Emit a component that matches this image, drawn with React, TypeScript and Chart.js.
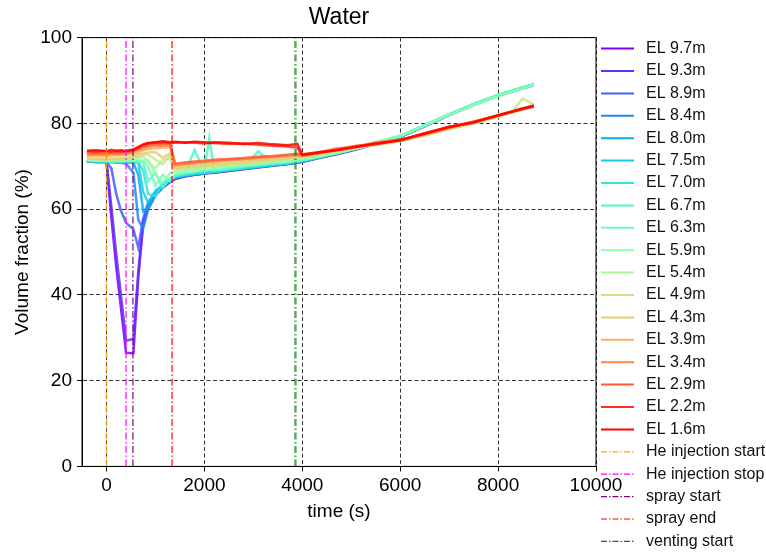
import React, { useEffect, useRef } from 'react';
import { Chart, registerables } from 'chart.js';

Chart.register(...registerables);

// ---------- data ----------
const TIME = [-400, -200, 0, 100, 200, 300, 400, 550, 650, 750, 850, 1000, 1150, 1300, 1400, 1600, 1800, 2000, 2100, 2200, 2500, 2800, 3100, 3400, 3700, 3900, 4000, 4300, 4700, 5100, 5500, 6000, 6500, 7000, 7500, 8000, 8300, 8500, 8730];

const SERIES_LABELS = ['EL 9.7m', 'EL 9.3m', 'EL 8.9m', 'EL 8.4m', 'EL 8.0m', 'EL 7.5m', 'EL 7.0m', 'EL 6.7m', 'EL 6.3m', 'EL 5.9m', 'EL 5.4m', 'EL 4.9m', 'EL 4.3m', 'EL 3.9m', 'EL 3.4m', 'EL 2.9m', 'EL 2.2m', 'EL 1.6m'];

const EL_97 = [71.2, 71.1, 71.0, 58.0, 46.5, 36.5, 26.5, 26.4, 44.0, 56.5, 60.5, 63.3, 65.0, 66.3, 67.0, 67.6, 68.0, 68.3, 68.4, 68.5, 68.9, 69.3, 69.7, 70.1, 70.5, 70.8, 71.0, 71.8, 72.8, 73.9, 75.2, 76.8, 79.3, 81.9, 84.3, 86.4, 87.5, 88.2, 88.9];
const EL_93 = [71.2, 71.1, 71.0, 60.5, 49.5, 39.5, 29.3, 29.7, 45.5, 57.0, 60.8, 63.5, 65.2, 66.4, 67.1, 67.7, 68.0, 68.3, 68.5, 68.6, 69.0, 69.4, 69.8, 70.2, 70.6, 70.9, 71.1, 71.9, 72.9, 74.0, 75.3, 76.9, 79.4, 82.0, 84.4, 86.5, 87.6, 88.3, 89.0];
const EL_89 = [71.1, 71.0, 71.0, 69.5, 63.5, 59.5, 56.8, 55.3, 51.0, 57.8, 61.5, 63.8, 65.4, 66.6, 67.2, 67.7, 68.1, 68.4, 68.5, 68.6, 69.0, 69.4, 69.8, 70.2, 70.6, 70.9, 71.1, 71.9, 72.9, 74.0, 75.3, 76.9, 79.4, 82.0, 84.4, 86.5, 87.6, 88.3, 89.0];
const EL_84 = [71.1, 71.0, 71.0, 71.0, 70.9, 70.8, 70.6, 68.5, 57.5, 55.5, 59.8, 63.2, 65.3, 66.6, 67.3, 67.8, 68.1, 68.4, 68.5, 68.6, 69.0, 69.4, 69.8, 70.2, 70.6, 70.9, 71.1, 71.9, 72.9, 74.0, 75.3, 76.9, 79.4, 82.0, 84.4, 86.5, 87.6, 88.3, 89.0];
const EL_80 = [71.1, 71.0, 71.0, 71.0, 71.0, 70.9, 70.9, 70.8, 68.0, 59.5, 60.5, 63.5, 65.3, 66.6, 67.3, 67.8, 68.2, 68.5, 68.6, 68.7, 69.1, 69.5, 69.9, 70.3, 70.6, 70.9, 71.1, 71.9, 73.0, 74.1, 75.4, 77.0, 79.5, 82.0, 84.4, 86.5, 87.6, 88.3, 89.1];
const EL_75 = [71.2, 71.1, 71.1, 71.1, 71.0, 71.0, 71.0, 71.0, 70.8, 64.0, 61.5, 64.3, 65.6, 66.8, 67.4, 67.9, 68.2, 68.5, 68.6, 68.7, 69.1, 69.5, 69.9, 70.3, 70.7, 71.0, 71.2, 72.0, 73.0, 74.1, 75.4, 77.0, 79.5, 82.1, 84.5, 86.6, 87.6, 88.4, 89.1];
const EL_70 = [71.2, 71.2, 71.1, 71.1, 71.1, 71.0, 71.0, 71.1, 71.0, 69.0, 63.5, 63.0, 66.0, 67.0, 67.6, 68.0, 68.3, 68.6, 68.7, 68.8, 69.2, 69.6, 70.0, 70.4, 70.8, 71.1, 71.3, 72.0, 73.0, 74.1, 75.4, 77.0, 79.5, 82.1, 84.5, 86.6, 87.7, 88.4, 89.1];
const EL_67 = [71.3, 71.2, 71.2, 71.1, 71.2, 71.1, 71.2, 71.2, 71.1, 71.0, 66.5, 68.5, 65.0, 67.2, 67.8, 68.3, 73.8, 68.8, 76.6, 69.0, 69.4, 69.8, 73.5, 70.5, 70.9, 71.2, 71.4, 72.1, 73.1, 74.2, 75.5, 77.1, 79.6, 82.1, 84.5, 86.6, 87.7, 88.4, 89.1];
const EL_63 = [71.4, 71.3, 71.3, 71.2, 71.3, 71.2, 71.3, 71.3, 71.2, 71.2, 70.0, 65.5, 68.0, 66.5, 68.0, 68.4, 68.7, 69.0, 69.1, 69.2, 69.6, 70.0, 70.3, 70.7, 71.0, 71.3, 71.5, 72.2, 73.1, 74.2, 75.5, 77.1, 79.6, 82.1, 84.5, 86.6, 87.7, 88.4, 89.1];
const EL_59 = [71.5, 71.4, 71.4, 71.3, 71.4, 71.3, 71.4, 71.4, 71.4, 71.3, 71.5, 68.0, 66.2, 68.5, 68.6, 68.9, 69.2, 69.4, 69.5, 69.6, 70.0, 70.3, 70.6, 71.0, 71.3, 71.5, 71.6, 72.2, 73.1, 74.1, 75.4, 77.0, 79.4, 81.9, 84.2, 86.3, 87.4, 88.1, 88.8];
const EL_54 = [71.6, 71.5, 71.5, 71.5, 71.6, 71.5, 71.6, 71.8, 72.0, 72.2, 71.0, 69.5, 71.5, 72.0, 69.0, 69.3, 69.5, 69.7, 69.8, 69.9, 70.2, 70.5, 70.8, 71.1, 71.5, 71.8, 72.0, 72.6, 73.4, 74.2, 74.9, 75.8, 77.1, 78.6, 79.9, 81.5, 82.6, 83.3, 84.1];
const EL_49 = [71.7, 71.6, 71.6, 71.6, 71.7, 71.7, 71.8, 72.0, 72.3, 72.6, 72.8, 71.5, 70.5, 72.5, 69.4, 69.6, 69.8, 70.0, 70.1, 70.2, 70.5, 70.8, 71.1, 71.4, 71.7, 72.0, 72.1, 72.7, 73.5, 74.3, 75.0, 75.9, 77.2, 78.7, 80.0, 81.6, 82.8, 85.8, 84.4];
const EL_43 = [71.8, 71.8, 71.7, 71.8, 71.8, 71.8, 72.0, 72.3, 72.8, 73.0, 73.2, 73.3, 72.0, 73.0, 69.6, 69.8, 70.0, 70.2, 70.3, 70.4, 70.7, 71.0, 71.3, 71.6, 71.9, 72.2, 72.3, 72.8, 73.6, 74.4, 75.1, 76.0, 77.3, 78.8, 80.1, 81.7, 82.8, 83.5, 84.3];
const EL_39 = [72.4, 72.5, 72.4, 72.5, 72.6, 72.5, 72.7, 72.9, 73.3, 73.7, 74.0, 74.2, 74.3, 74.5, 70.0, 70.4, 70.6, 70.8, 70.9, 71.0, 71.3, 71.5, 71.8, 72.0, 72.3, 72.5, 72.4, 73.0, 73.8, 74.8, 75.2, 76.1, 77.5, 79.0, 80.3, 81.8, 82.8, 83.5, 84.1];
const EL_34 = [72.7, 72.8, 72.7, 72.9, 72.8, 72.9, 73.0, 73.3, 73.8, 74.2, 74.5, 74.7, 74.8, 74.9, 70.3, 70.6, 70.8, 71.0, 71.1, 71.2, 71.5, 71.7, 72.0, 72.2, 72.5, 72.7, 72.6, 73.1, 74.2, 74.5, 75.6, 76.2, 77.4, 79.2, 80.4, 81.9, 82.9, 83.4, 84.0];
const EL_29 = [73.0, 73.1, 73.0, 73.2, 73.1, 73.2, 73.3, 73.6, 74.1, 74.6, 74.9, 75.1, 75.2, 75.3, 70.6, 70.9, 71.1, 71.3, 71.4, 71.5, 71.7, 71.9, 72.2, 72.4, 72.7, 72.9, 72.8, 73.2, 73.9, 74.7, 75.3, 76.1, 77.6, 79.1, 80.2, 81.8, 82.8, 83.4, 84.0];
const EL_22 = [73.5, 73.4, 73.6, 73.3, 73.5, 73.4, 73.6, 73.8, 74.3, 74.9, 75.3, 75.5, 75.6, 75.4, 75.5, 75.6, 75.5, 75.3, 75.5, 75.4, 75.2, 75.3, 75.0, 74.8, 74.6, 74.3, 72.5, 73.0, 73.8, 74.6, 75.1, 76.2, 77.5, 79.0, 80.4, 81.8, 82.7, 83.3, 83.9];
const EL_16 = [73.6, 73.7, 73.5, 73.8, 73.6, 73.7, 73.5, 73.9, 74.5, 75.1, 75.4, 75.6, 75.8, 75.6, 75.7, 75.5, 75.7, 75.6, 75.4, 75.6, 75.5, 75.2, 75.4, 75.1, 74.9, 75.2, 72.7, 73.2, 73.7, 74.5, 75.3, 76.0, 77.7, 79.2, 80.2, 81.9, 82.8, 83.5, 84.1];

const SERIES = [EL_97, EL_93, EL_89, EL_84, EL_80, EL_75, EL_70, EL_67, EL_63, EL_59, EL_54, EL_49, EL_43, EL_39, EL_34, EL_29, EL_22, EL_16];

const EVENT_LABELS = ['He injection start', 'He injection stop', 'spray start', 'spray end', 'venting start'];
const EVENT_TIMES = [0, 400, 540, 1340, 3860];
const EVENT_COLORS = ['255,165,0', '255,0,255', '128,0,128', '255,0,0', '0,128,0'];

const X_TICKS = [0, 2000, 4000, 6000, 8000, 10000];
const Y_TICKS = [0, 20, 40, 60, 80, 100];

// ---------- styling helpers ----------
const FONT = '"Liberation Sans", Arial, Helvetica, sans-serif';

function rainbow(x: number): string {
  const clip = (v: number) => Math.max(0, Math.min(1, v));
  const r = clip(Math.abs(2 * x - 0.5));
  const g = clip(Math.sin(Math.PI * x));
  const b = clip(Math.cos((Math.PI * x) / 2));
  return `${Math.round(r * 255)},${Math.round(g * 255)},${Math.round(b * 255)}`;
}

const DASH_DOT = [7, 2.5, 1.5, 2.5];

const sideLegend = {
  id: 'sideLegend',
  afterDraw(chart: any) {
    const { ctx, chartArea } = chart;
    ctx.save();
    ctx.font = `16px ${FONT}`;
    ctx.textBaseline = 'middle';
    ctx.textAlign = 'left';
    chart.data.datasets.forEach((ds: any, i: number) => {
      const y = chartArea.top + 11 + i * 22.4;
      const x0 = chartArea.right + 5;
      ctx.beginPath();
      ctx.setLineDash(ds.legendDash || []);
      ctx.strokeStyle = ds.legendColor;
      ctx.lineWidth = ds.legendWidth;
      ctx.moveTo(x0, y);
      ctx.lineTo(x0 + 33, y);
      ctx.stroke();
      ctx.setLineDash([]);
      ctx.fillStyle = '#111';
      ctx.fillText(ds.label, x0 + 45, y);
    });
    ctx.restore();
  },
};

const frame = {
  id: 'frame',
  afterDatasetsDraw(chart: any) {
    const { ctx, chartArea } = chart;
    ctx.save();
    ctx.strokeStyle = '#000';
    ctx.lineWidth = 1;
    ctx.setLineDash([]);
    ctx.strokeRect(chartArea.left, chartArea.top, chartArea.right - chartArea.left, chartArea.bottom - chartArea.top);
    ctx.restore();
  },
};

export default function App() {
  const ref = useRef<HTMLCanvasElement | null>(null);

  useEffect(() => {
    document.body.style.margin = '0';
    const canvas = ref.current;
    if (!canvas) return;

    const n = SERIES.length;
    const seriesSets = SERIES.map((vals, i) => {
      const c = rainbow(i / (n - 1));
      return {
        type: 'line',
        label: SERIES_LABELS[i],
        data: TIME.map((t, k) => ({ x: t, y: vals[k] })),
        borderColor: `rgba(${c},0.85)`,
        borderWidth: 2.5,
        pointRadius: 0,
        tension: 0,
        fill: false,
        order: 100 - i,
        legendColor: `rgb(${c})`,
        legendWidth: 2,
      };
    });
    const eventSets = EVENT_TIMES.map((t, i) => ({
      type: 'line',
      label: EVENT_LABELS[i],
      data: [{ x: t, y: 0 }, { x: t, y: 100 }],
      borderColor: `rgba(${EVENT_COLORS[i]},${i === 4 ? 0.65 : 0.8})`,
      borderWidth: i === 4 ? 2.5 : 1.5,
      borderDash: DASH_DOT,
      pointRadius: 0,
      fill: false,
      order: -i,
      legendColor: `rgb(${EVENT_COLORS[i]})`,
      legendWidth: 1.2,
      legendDash: [6, 2, 1.5, 2],
    }));

    const chart = new Chart(canvas, {
      type: 'line',
      data: { datasets: [...seriesSets, ...eventSets] as any },
      options: {
        animation: false,
        responsive: false,
        maintainAspectRatio: false,
        layout: { padding: { left: 9.5, right: 170, top: 0, bottom: 0 } },
        plugins: {
          legend: { display: false },
          tooltip: { enabled: false },
          title: {
            display: true,
            text: 'Water',
            color: '#000',
            font: { family: FONT, size: 23, weight: 'normal' },
            padding: { top: 4, bottom: 6 },
            fullSize: false,
          } as any,
        },
        scales: {
          x: {
            type: 'linear',
            min: -500,
            max: 10000,
            afterBuildTicks: (s: any) => {
              s.ticks = X_TICKS.map((v) => ({ value: v }));
            },
            ticks: {
              color: '#000',
              font: { family: FONT, size: 19 },
              padding: 3,
              maxRotation: 0,
              autoSkip: false,
              callback: (v: any) => String(v),
            },
            grid: {
              color: 'rgba(0,0,0,0.8)',
              lineWidth: 1,
              tickLength: 5,
              tickColor: '#000',
              borderDash: [4, 2.5],
            } as any,
            border: { display: true, color: '#000', width: 1, dash: [4, 2.5] } as any,
            title: {
              display: true,
              text: 'time (s)',
              color: '#000',
              font: { family: FONT, size: 19 },
              padding: { top: 0, bottom: 30 },
            },
          },
          y: {
            type: 'linear',
            min: 0,
            max: 100,
            afterBuildTicks: (s: any) => {
              s.ticks = Y_TICKS.map((v) => ({ value: v }));
            },
            ticks: {
              color: '#000',
              font: { family: FONT, size: 19 },
              padding: 5,
              autoSkip: false,
              callback: (v: any) => String(v),
            },
            grid: {
              color: 'rgba(0,0,0,0.8)',
              lineWidth: 1,
              tickLength: 5,
              tickColor: '#000',
              borderDash: [4, 2.5],
            } as any,
            border: { display: true, color: '#000', width: 1, dash: [4, 2.5] } as any,
            title: {
              display: true,
              text: 'Volume fraction (%)',
              color: '#000',
              font: { family: FONT, size: 19 },
              padding: { top: 2, bottom: 1 },
            },
          },
        },
      } as any,
      plugins: [frame, sideLegend],
    });

    return () => chart.destroy();
  }, []);

  return (
    <div style={{ width: 766, height: 553, position: 'relative', background: '#fff' }}>
      <canvas ref={ref} width={766} height={553} style={{ display: 'block' }} />
    </div>
  );
}
